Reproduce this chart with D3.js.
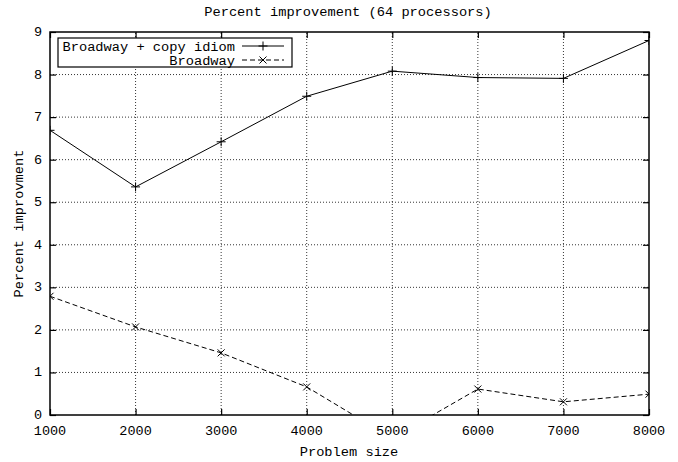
<!DOCTYPE html>
<html>
<head>
<meta charset="utf-8">
<script src="https://cdn.jsdelivr.net/npm/d3@7"></script>
<style>
  body { margin: 0; background: #fff; }
  text { font-family: "Courier New", "Liberation Mono", monospace; fill: #000; }
</style>
</head>
<body>
<svg id="chart"></svg>
<script>
// problem sizes on the x axis
const sizes = [1000, 2000, 3000, 4000, 5000, 6000, 7000, 8000];
// percent improvement
const copyIdiom = [6.69, 5.36, 6.42, 7.49, 8.08, 7.93, 7.91, 8.80];
const broadway = [2.79, 2.07, 1.46, 0.66, -0.55, 0.61, 0.31, 0.49];
const seriesNames = ["Broadway + copy idiom", "Broadway"];
const yTicks = [0, 1, 2, 3, 4, 5, 6, 7, 8, 9];

let width = 678;
let height = 462;
let margin = {top: 32, right: 29, bottom: 47, left: 50};
let fs = 13.7;

let svg = d3.select("#chart")
  .attr("width", width)
  .attr("height", height);

let x = d3.scaleLinear()
  .domain([1000, 8000])
  .range([margin.left, width - margin.right]);

let y = d3.scaleLinear()
  .domain([0, 9])
  .range([height - margin.bottom, margin.top]);

let x0 = x.range()[0], x1 = x.range()[1];
let y0 = y.range()[0], y1 = y.range()[1];

// clip for lines dipping below 0
svg.append("clipPath").attr("id", "plotclip")
  .append("rect")
  .attr("x", x0).attr("y", y1)
  .attr("width", x1 - x0).attr("height", y0 - y1);

// dotted grid
let grid = svg.append("g").attr("stroke", "#000").attr("stroke-width", 0.8)
  .attr("stroke-dasharray", "1,2");
grid.selectAll(".gx")
  .data(sizes.slice(1, -1))
  .enter().append("line")
  .attr("x1", d => x(d)).attr("x2", d => x(d))
  .attr("y1", y0).attr("y2", y1);
grid.selectAll(".gy")
  .data(yTicks.slice(1, -1))
  .enter().append("line")
  .attr("y1", d => y(d)).attr("y2", d => y(d))
  .attr("x1", x0).attr("x2", x1);

// axes, ticks pointing inward (mirrored on all four sides)
let tl = 6;
svg.append("g").attr("transform", `translate(0,${y0})`)
  .call(d3.axisTop(x).tickValues(sizes).tickSize(tl).tickFormat(""));
svg.append("g").attr("transform", `translate(0,${y1})`)
  .call(d3.axisBottom(x).tickValues(sizes).tickSize(tl).tickFormat(""));
svg.append("g").attr("transform", `translate(${x0},0)`)
  .call(d3.axisRight(y).tickValues(yTicks).tickSize(tl).tickFormat(""));
svg.append("g").attr("transform", `translate(${x1},0)`)
  .call(d3.axisLeft(y).tickValues(yTicks).tickSize(tl).tickFormat(""));
svg.selectAll(".domain").remove();
svg.selectAll(".tick line").attr("stroke", "#000").attr("stroke-width", 1.2);

// tick labels
svg.append("g").selectAll("text")
  .data(sizes)
  .enter().append("text")
  .attr("x", d => x(d))
  .attr("y", y0 + 20)
  .attr("text-anchor", "middle")
  .attr("font-size", 13.5)
  .text(d => d);
svg.append("g").selectAll("text")
  .data(yTicks)
  .enter().append("text")
  .attr("x", x0 - 8)
  .attr("y", d => y(d) + 4)
  .attr("text-anchor", "end")
  .attr("font-size", 13.5)
  .text(d => d);

// frame
svg.append("rect")
  .attr("x", x0).attr("y", y1)
  .attr("width", x1 - x0).attr("height", y0 - y1)
  .attr("fill", "none").attr("stroke", "#000").attr("stroke-width", 1.5);

// titles
svg.append("text").attr("x", 348).attr("y", 16)
  .attr("text-anchor", "middle").attr("font-size", fs)
  .text("Percent improvement (64 processors)");
svg.append("text").attr("x", 349).attr("y", 456)
  .attr("text-anchor", "middle").attr("font-size", fs)
  .text("Problem size");
svg.append("text")
  .attr("transform", `translate(23,${(y0 + y1) / 2}) rotate(-90)`)
  .attr("text-anchor", "middle").attr("font-size", fs)
  .text("Percent improvment");

let line = d3.line()
  .x((d, i) => x(sizes[i]))
  .y(d => y(d));

let plot = svg.append("g").attr("clip-path", "url(#plotclip)");

plot.append("path").datum(copyIdiom)
  .attr("d", line).attr("fill", "none")
  .attr("stroke", "#000").attr("stroke-width", 1);
plot.append("path").datum(broadway)
  .attr("d", line).attr("fill", "none")
  .attr("stroke", "#000").attr("stroke-width", 1)
  .attr("stroke-dasharray", "5,3");

// point markers
function plus(g, cx, cy, s) {
  g.append("path").attr("d", `M${cx - s},${cy}H${cx + s}M${cx},${cy - s}V${cy + s}`)
    .attr("stroke", "#000").attr("stroke-width", 1);
}
function cross(g, cx, cy, s) {
  g.append("path").attr("d", `M${cx - s},${cy - s}L${cx + s},${cy + s}M${cx - s},${cy + s}L${cx + s},${cy - s}`)
    .attr("stroke", "#000").attr("stroke-width", 1);
}
copyIdiom.forEach((d, i) => plus(plot, x(sizes[i]), y(d), 4.5));
broadway.forEach((d, i) => cross(plot, x(sizes[i]), y(d), 3.5));

// legend
let leg = svg.append("g");
leg.append("rect")
  .attr("x", 58).attr("y", 38).attr("width", 234).attr("height", 29)
  .attr("fill", "#fff").attr("stroke", "#000").attr("stroke-width", 1.2);
seriesNames.forEach((name, i) => {
  let ly = 46 + i * 14;
  leg.append("text").attr("x", 235).attr("y", ly + 4.5)
    .attr("text-anchor", "end").attr("font-size", fs).text(name);
  leg.append("line").attr("x1", 242).attr("x2", 284)
    .attr("y1", ly).attr("y2", ly)
    .attr("stroke", "#000").attr("stroke-width", 1)
    .attr("stroke-dasharray", i === 1 ? "5,3" : null);
  if (i === 0) plus(leg, 263, ly, 4.5); else cross(leg, 263, ly, 3.5);
});
</script>
</body>
</html>
